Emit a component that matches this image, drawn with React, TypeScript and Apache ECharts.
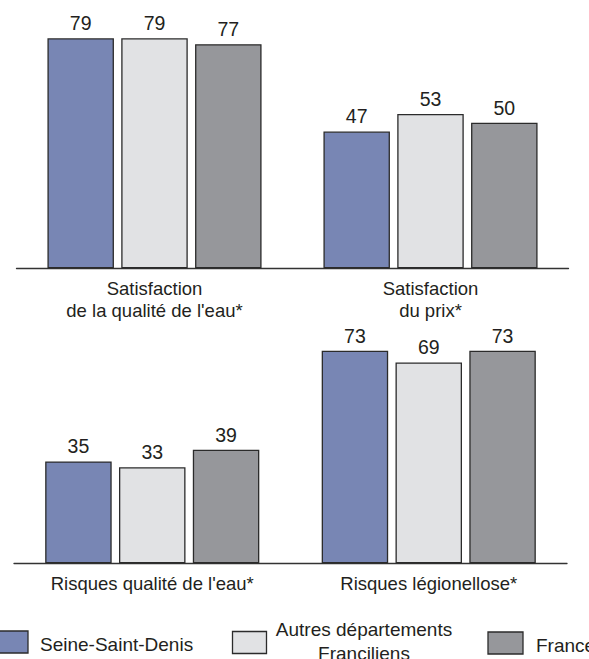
import React, { useEffect, useRef } from "react";
import * as echarts from "echarts";

// Survey results (%), by area
const seriesNames = ["Seine-Saint-Denis", "Autres départements Franciliens", "France"];
const legendLabels = ["Seine-Saint-Denis", "Autres départements\nFranciliens", "France"];
const colors = ["#7886b4", "#e1e2e4", "#96979b"];

const satisfactionCategories = ["Satisfaction\nde la qualité de l'eau*", "Satisfaction\ndu prix*"];
const satisfactionSeineSaintDenis = [79, 47];
const satisfactionAutres = [79, 53];
const satisfactionFrance = [77, 50];

const risqueCategories = ["Risques qualité de l'eau*", "Risques légionellose*"];
const risqueSeineSaintDenis = [35, 73];
const risqueAutres = [33, 69];
const risqueFrance = [39, 73];

const FONT = "'Liberation Sans', Arial, Helvetica, sans-serif";
const TEXT = "#231f20";
const EDGE = "#2b2b2b";

export default function App() {
  const ref = useRef<HTMLDivElement>(null);

  useEffect(() => {
    if (!ref.current) return;
    const chart = echarts.init(ref.current, undefined, { renderer: "svg" });

    const rows = [
      [satisfactionSeineSaintDenis, satisfactionAutres, satisfactionFrance],
      [risqueSeineSaintDenis, risqueAutres, risqueFrance],
    ];

    const series: any[] = [];
    rows.forEach((row, r) => {
      row.forEach((values, i) => {
        series.push({
          type: "bar",
          name: seriesNames[i],
          xAxisIndex: r,
          yAxisIndex: r,
          data: values,
          barWidth: 66.5,
          barGap: "11%",
          itemStyle: { color: colors[i], borderColor: EDGE, borderWidth: 1.3 },
          label: {
            show: true,
            position: "top",
            distance: 5,
            color: TEXT,
            fontSize: 19.5,
            fontFamily: FONT,
          },
        });
      });
    });

    const xAxisBase = {
      type: "category",
      axisTick: { show: false },
      axisLine: { lineStyle: { color: "#333", width: 1.3 } },
      axisLabel: {
        color: TEXT,
        fontSize: 18.5,
        lineHeight: 22,
        margin: 9,
        fontFamily: FONT,
        interval: 0,
      },
    };
    const yAxisBase = {
      type: "value",
      min: 0,
      max: 90,
      show: false,
      splitLine: { show: false },
    };

    // Legend drawn as swatches and labels
    const swatches = [
      { x: -6, y: 631, w: 34, h: 22 },
      { x: 232.5, y: 631.5, w: 34, h: 22 },
      { x: 488, y: 632, w: 35, h: 22 },
    ];
    const graphic: any[] = [];
    swatches.forEach((s, i) => {
      graphic.push({
        type: "rect",
        shape: { x: s.x, y: s.y, width: s.w, height: s.h },
        style: { fill: colors[i], stroke: EDGE, lineWidth: 1.3 },
      });
    });
    graphic.push({
      type: "text",
      x: 40,
      y: 644.5,
      style: { text: legendLabels[0], fill: TEXT, font: `19px ${FONT}`, textAlign: "left", textVerticalAlign: "middle" },
    });
    graphic.push({
      type: "text",
      x: 364,
      y: 617,
      style: {
        text: legendLabels[1],
        fill: TEXT,
        fontSize: 19,
        fontFamily: FONT,
        lineHeight: 24.5,
        align: "center",
        verticalAlign: "top",
      },
    });
    graphic.push({
      type: "text",
      x: 536,
      y: 645.5,
      style: { text: legendLabels[2], fill: TEXT, font: `19px ${FONT}`, textAlign: "left", textVerticalAlign: "middle" },
    });

    chart.setOption({
      animation: false,
      backgroundColor: "#ffffff",
      textStyle: { fontFamily: FONT },
      grid: [
        { left: 16.5, width: 552, top: 6.3, height: 262 },
        { left: 14, width: 553, top: 301.3, height: 262 },
      ],
      xAxis: [
        { ...xAxisBase, gridIndex: 0, data: satisfactionCategories },
        { ...xAxisBase, gridIndex: 1, data: risqueCategories },
      ],
      yAxis: [
        { ...yAxisBase, gridIndex: 0 },
        { ...yAxisBase, gridIndex: 1 },
      ],
      series,
      graphic,
    });

    return () => chart.dispose();
  }, []);

  return (
    <div
      ref={ref}
      style={{ position: "fixed", left: 0, top: 0, width: 589, height: 659, background: "#fff" }}
    />
  );
}
